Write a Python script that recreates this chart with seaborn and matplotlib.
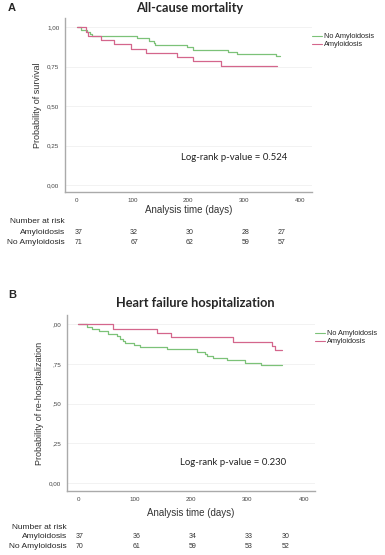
import numpy as np
import pandas as pd
import matplotlib
matplotlib.use("Agg")
import matplotlib.pyplot as plt
import matplotlib.transforms as mtrans
import seaborn as sns

# ── Data ──────────────────────────────────────────────────────────────────────
groups = ["No Amyloidosis", "Amyloidosis"]

# Panel A: all-cause mortality
a_noamy_t = [0, 7, 18, 23, 27, 109, 129, 138, 141, 198, 209, 272, 288, 358, 365]
a_noamy_s = [1.0, 0.986, 0.972, 0.958, 0.944, 0.930, 0.915, 0.901, 0.887,
             0.873, 0.859, 0.845, 0.831, 0.817, 0.817]
a_amy_t = [0, 17, 20, 43, 67, 97, 124, 180, 208, 259, 360]
a_amy_s = [1.0, 0.973, 0.946, 0.919, 0.892, 0.865, 0.838, 0.811, 0.784, 0.757, 0.757]

# Panel B: heart failure hospitalization
b_noamy_t = [0, 15, 24, 36, 53, 68, 74, 80, 83, 98, 109, 157, 210, 225, 228,
             239, 263, 296, 325, 361]
b_noamy_s = [1.0, 0.983, 0.968, 0.956, 0.941, 0.926, 0.910, 0.897, 0.884, 0.870,
             0.857, 0.842, 0.827, 0.815, 0.800, 0.785, 0.773, 0.758, 0.743, 0.743]
b_amy_t = [0, 61, 140, 164, 274, 344, 349, 361]
b_amy_s = [1.0, 0.973, 0.946, 0.919, 0.892, 0.865, 0.838, 0.838]

risk_days = [0, 100, 200, 300, 365]
a_risk_amy = [37, 32, 30, 28, 27]
a_risk_noamy = [71, 67, 62, 59, 57]
b_risk_amy = [37, 36, 34, 33, 30]
b_risk_noamy = [70, 61, 59, 53, 52]

yticks = [0, 0.25, 0.5, 0.75, 1.0]
a_ylabels = ["0,00", "0,25", "0,50", "0,75", "1,00"]
b_ylabels = ["0,00", ",25", ",50", ",75", ",00"]
xticks = [0, 100, 200, 300, 400]

palette = {"No Amyloidosis": "#7cc278", "Amyloidosis": "#d4668c"}

sns.set_style("white")
plt.rcParams["font.family"] = ["Liberation Sans", "DejaVu Sans"]

fig = plt.figure(figsize=(3.85, 5.55), dpi=100)
W, H = 385, 555


def px_axes(left, top, right, bottom):
    return fig.add_axes([left / W, 1 - bottom / H, (right - left) / W, (bottom - top) / H])


def km_frame(t1, s1, t2, s2):
    return pd.DataFrame({
        "time": t1 + t2,
        "surv": s1 + s2,
        "group": [groups[0]] * len(t1) + [groups[1]] * len(t2),
    })


def draw_panel(ax, df, xlim, ylim, ylabels, ylabel, ptext, ppos, risk_amy,
               risk_noamy, xlabelpad, risk_rows):
    sns.lineplot(data=df, x="time", y="surv", hue="group", hue_order=groups,
                 palette=palette, estimator=None, sort=False,
                 drawstyle="steps-post", lw=0.9, ax=ax)
    ax.set_xlim(*xlim)
    ax.set_ylim(*ylim)
    for yv in yticks:
        ax.axhline(yv, color="#f0f0f0", lw=0.6, zorder=0)
    ax.set_yticks(yticks)
    ax.set_yticklabels(ylabels)
    ax.set_xticks(xticks)
    ax.tick_params(axis="both", labelsize=4.5, colors="#444444", length=0, pad=4)
    ax.set_ylabel(ylabel, fontsize=6.5, color="#333333", labelpad=4)
    ax.set_xlabel("Analysis time (days)", fontsize=7, color="#333333",
                  labelpad=xlabelpad)
    for side in ["top", "right"]:
        ax.spines[side].set_visible(False)
    for side in ["left", "bottom"]:
        ax.spines[side].set_color("#aaaaaa")
        ax.spines[side].set_linewidth(1.0)
    ax.text(ppos[0], ppos[1], ptext, transform=ax.transAxes, ha="center",
            va="center", fontsize=6.9, family="Lato", color="#222222")
    leg = ax.legend(loc="upper left", bbox_to_anchor=(0.99, 0.93), frameon=False,
                    fontsize=5.3, handlelength=1.3, handletextpad=0.2,
                    labelspacing=0.1, borderaxespad=0)
    for line in leg.get_lines():
        line.set_linewidth(0.8)
    # Number at risk table
    y0, y1, y2 = risk_rows
    tr = mtrans.blended_transform_factory(ax.transData, ax.transAxes)
    ax.text(0.0, y0, "Number at risk", transform=ax.transAxes, ha="right",
            va="center", fontsize=6)
    ax.text(0.0, y1, "Amyloidosis", transform=ax.transAxes, ha="right",
            va="center", fontsize=6)
    ax.text(0.0, y2, "No Amyloidosis", transform=ax.transAxes, ha="right",
            va="center", fontsize=6)
    for d, na, nn in zip(risk_days, risk_amy, risk_noamy):
        ax.text(d + 3, y1, str(na), transform=tr, ha="center", va="center",
                fontsize=5, color="#333333")
        ax.text(d + 3, y2, str(nn), transform=tr, ha="center", va="center",
                fontsize=5, color="#333333")


# ── Panel A ───────────────────────────────────────────────────────────────────
axA = px_axes(65, 18, 312, 192)
draw_panel(axA, km_frame(a_noamy_t, a_noamy_s, a_amy_t, a_amy_s),
           (-21, 422), (-0.045, 1.059), a_ylabels, "Probability of survival",
           "Log-rank p-value = 0.524", (0.684, 0.20), a_risk_amy, a_risk_noamy,
           2, (-0.172, -0.232, -0.293))
fig.text(8 / W, 1 - 8 / H, "A", fontsize=8, fontweight="bold", va="center")
fig.text(190 / W, 1 - 8 / H, "All-cause mortality", fontsize=9.2,
         fontweight="bold", family="Lato", ha="center", va="center")

# ── Panel B ───────────────────────────────────────────────────────────────────
axB = px_axes(67, 315, 315, 491)
draw_panel(axB, km_frame(b_noamy_t, b_noamy_s, b_amy_t, b_amy_s),
           (-20, 420), (-0.05, 1.059), b_ylabels,
           "Probability of re-hospitalization",
           "Log-rank p-value = 0.230", (0.669, 0.16), b_risk_amy, b_risk_noamy,
           5, (-0.205, -0.261, -0.318))
fig.text(8 / W, 1 - 295 / H, "B", fontsize=8, fontweight="bold", va="center")
fig.text(195 / W, 1 - 303 / H, "Heart failure hospitalization", fontsize=9.2,
         fontweight="bold", family="Lato", ha="center", va="center")

fig.savefig("out.png", dpi=100, facecolor="white")
